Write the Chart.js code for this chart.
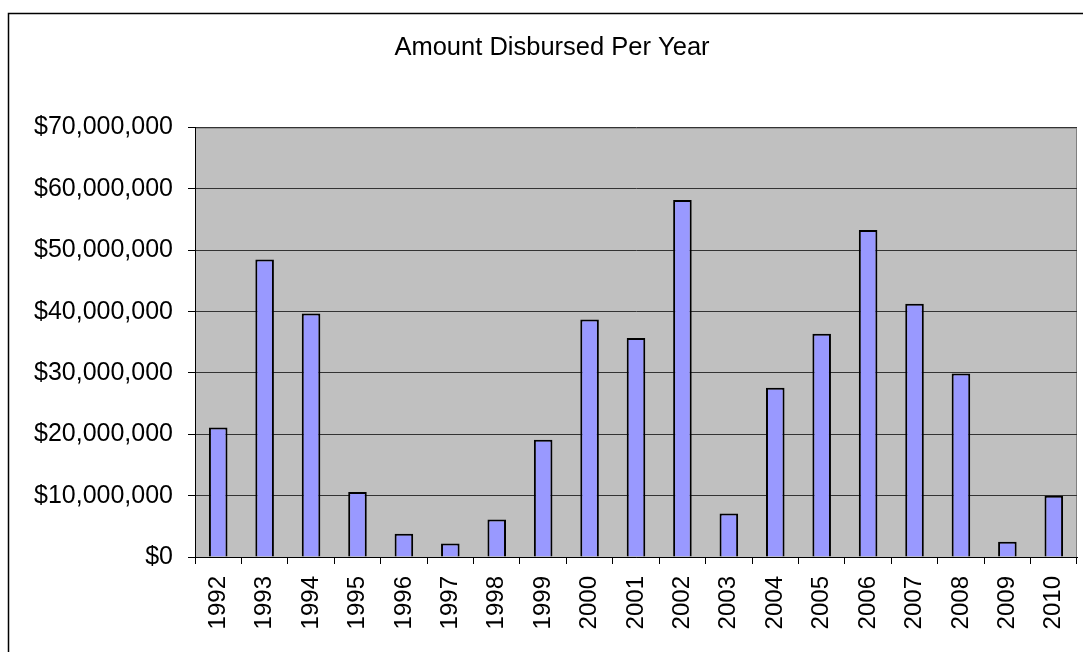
<!DOCTYPE html>
<html>
<head>
<meta charset="utf-8">
<title>Amount Disbursed Per Year</title>
<script src="https://cdn.jsdelivr.net/npm/chart.js@4.4.1/dist/chart.umd.min.js"></script>
<style>
  html, body { margin: 0; padding: 0; background: #fff; }
  #wrap { width: 1083px; height: 652px; }
</style>
</head>
<body>
<div id="wrap"><canvas id="grafico"></canvas></div>
<script>
const years = ["1992", "1993", "1994", "1995", "1996", "1997", "1998", "1999", "2000", "2001",
  "2002", "2003", "2004", "2005", "2006", "2007", "2008", "2009", "2010"];

// montos (en dolares)
const disbursed = [21100000, 48500000, 39700000, 10600000, 3800000, 2200000, 6100000, 19100000,
  38700000, 35700000, 58200000, 7100000, 27600000, 36400000, 53300000, 41300000, 29900000,
  2500000, 10000000];

const yTicks = [0, 10000000, 20000000, 30000000, 40000000, 50000000, 60000000, 70000000];

const fontFamily = "'Liberation Sans', Arial, sans-serif";

function formatMoney(value) {
  return "$" + Number(value).toLocaleString("en-US");
}

// fondo gris del area y marco exterior
const marcoPlugin = {
  id: "marco",
  beforeDraw(chart) {
    const { ctx, chartArea } = chart;
    ctx.save();
    ctx.strokeStyle = "#000";
    ctx.lineWidth = 1.5;
    ctx.strokeRect(8.5, 13.5, 2000, 2000);
    ctx.fillStyle = "#c0c0c0";
    ctx.fillRect(chartArea.left, chartArea.top, chartArea.right - chartArea.left, chartArea.bottom - chartArea.top);
    ctx.strokeStyle = "#808080";
    ctx.lineWidth = 1;
    ctx.beginPath();
    ctx.moveTo(chartArea.left, chartArea.top + 0.5);
    ctx.lineTo(chartArea.right - 0.5, chartArea.top + 0.5);
    ctx.lineTo(chartArea.right - 0.5, chartArea.bottom);
    ctx.stroke();
    ctx.restore();
  },
};

const ctxGrafico = document.getElementById("grafico");

const data = {
  labels: years,
  datasets: [
    {
      label: "Amount Disbursed",
      data: disbursed,
      backgroundColor: "#9999ff",
      borderColor: "#000",
      borderWidth: 2,
      barPercentage: 0.4,
      categoryPercentage: 1,
    },
  ],
};

const options = {
  responsive: true,
  maintainAspectRatio: false,
  animation: false,
  layout: {
    padding: { left: 27, right: 6, top: 0, bottom: 0 },
  },
  plugins: {
    legend: { display: false },
    tooltip: { enabled: false },
    title: {
      display: true,
      text: "Amount Disbursed Per Year",
      color: "#000",
      font: { family: fontFamily, size: 25.5, weight: "normal" },
      padding: { top: 33, bottom: 64 },
    },
  },
  scales: {
    x: {
      grid: {
        display: true,
        drawOnChartArea: false,
        drawTicks: true,
        tickLength: 7,
        tickColor: "#000",
        offset: true,
      },
      border: { color: "#000", width: 1 },
      ticks: {
        color: "#000",
        autoSkip: false,
        maxRotation: 90,
        minRotation: 90,
        padding: 12,
        font: { family: fontFamily, size: 24 },
      },
      afterFit(scale) {
        scale.height = 95;
        // sin relleno lateral por las etiquetas giradas
        scale.paddingLeft = 0;
        scale.paddingRight = 0;
      },
    },
    y: {
      min: 0,
      max: 70000000,
      afterBuildTicks(scale) {
        scale.ticks = yTicks.map((v) => ({ value: v }));
      },
      grid: {
        color: "#333",
        lineWidth: 1,
        drawTicks: true,
        tickLength: 7,
        tickColor: "#000",
      },
      border: { color: "#000", width: 1 },
      ticks: {
        color: "#000",
        padding: 15,
        font: { family: fontFamily, size: 25 },
        callback: (value) => formatMoney(value),
      },
      afterFit(scale) {
        scale.width = 168;
      },
    },
  },
};

const myChart = new Chart(ctxGrafico, {
  type: "bar",
  data: data,
  options: options,
  plugins: [marcoPlugin],
});
</script>
</body>
</html>
